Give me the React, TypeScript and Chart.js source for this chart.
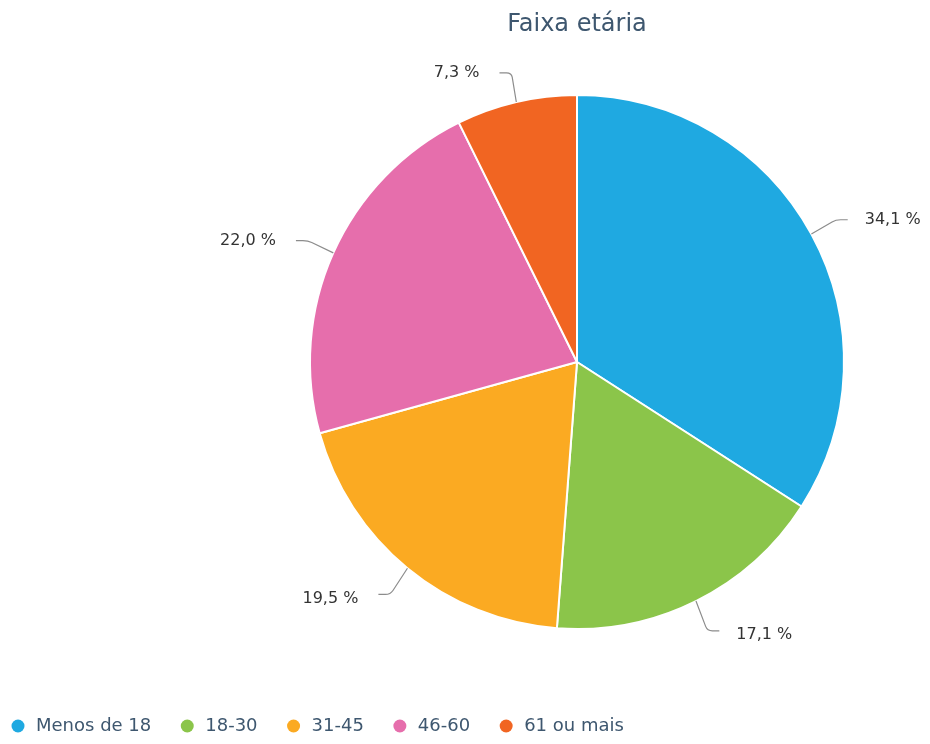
import React, { useEffect, useRef } from "react";
import { Chart, registerables } from "chart.js";

Chart.register(...registerables);

const titleText = "Faixa etária";
const categories = ["Menos de 18", "18-30", "31-45", "46-60", "61 ou mais"];
const values = [34.1, 17.1, 19.5, 22.0, 7.3];
const colors = ["#1fa9e1", "#8bc54a", "#fbaa22", "#e66eac", "#f16522"];

const FONT = '"DejaVu Sans", sans-serif';

const fmt = (v: number) => v.toFixed(1).replace(".", ",") + " %";

const decorPlugin = {
  id: "decor",
  afterDraw(chart: any) {
    const ctx: CanvasRenderingContext2D = chart.ctx;
    const meta = chart.getDatasetMeta(0);
    const data = chart.data.datasets[0].data as number[];
    const bg = chart.data.datasets[0].backgroundColor as string[];
    ctx.save();
    // title
    ctx.fillStyle = "#3e576f";
    ctx.font = `24px ${FONT}`;
    ctx.textAlign = "center";
    ctx.textBaseline = "middle";
    const cx0 = (chart.chartArea.left + chart.chartArea.right) / 2;
    ctx.fillText(titleText, cx0, 25);

    // data labels with connectors
    meta.data.forEach((arc: any, i: number) => {
      const { x, y, startAngle, endAngle, outerRadius } = arc.getProps(
        ["x", "y", "startAngle", "endAngle", "outerRadius"],
        true
      );
      const mid = (startAngle + endAngle) / 2;
      const dx = Math.cos(mid);
      const dy = Math.sin(mid);
      const p0x = x + outerRadius * dx;
      const p0y = y + outerRadius * dy;
      const lr = outerRadius + 30;
      const right = dx >= 0;
      const bottom = dy > 0.3;
      const bx = x + lr * dx;
      const by = y + lr * dy + (bottom ? 3 : 0);
      const side = right ? 1 : -1;
      const ex = bx + side * 10;
      ctx.strokeStyle = "#8c8c8c";
      ctx.lineWidth = 1.2;
      ctx.beginPath();
      ctx.moveTo(p0x, p0y);
      const kx = bx - side * 2;
      ctx.lineTo(kx + (p0x - kx) * 0.15, by + (p0y - by) * 0.15);
      ctx.quadraticCurveTo(kx, by, kx + side * 5, by);
      ctx.lineTo(ex, by);
      ctx.stroke();
      ctx.fillStyle = "#333333";
      ctx.font = `16px ${FONT}`;
      ctx.textAlign = right ? "left" : "right";
      ctx.textBaseline = "middle";
      ctx.fillText(fmt(data[i]), bx + side * (right ? 27 : 30), by + (bottom ? 4 : 0));
    });

    // legend
    ctx.font = `18px ${FONT}`;
    ctx.textAlign = "left";
    ctx.textBaseline = "middle";
    let lx = 12;
    const ly = 726;
    (chart.data.labels as string[]).forEach((lab: string, i: number) => {
      ctx.fillStyle = bg[i];
      ctx.beginPath();
      ctx.arc(lx + 6, ly, 6.5, 0, Math.PI * 2);
      ctx.fill();
      ctx.fillStyle = "#3e576f";
      ctx.fillText(lab, lx + 24, ly);
      lx += 24 + ctx.measureText(lab).width + 30;
    });
    ctx.restore();
  },
};

export default function App() {
  const ref = useRef<HTMLCanvasElement | null>(null);
  useEffect(() => {
    if (!ref.current) return;
    const chart = new Chart(ref.current, {
      type: "pie",
      data: {
        labels: categories,
        datasets: [
          {
            data: values,
            backgroundColor: colors,
            borderColor: "#ffffff",
            borderWidth: 2,
          },
        ],
      },
      options: {
        responsive: false,
        animation: false,
        devicePixelRatio: 1,
        layout: { padding: { left: 309, right: 85, top: 94, bottom: 114 } },
        plugins: {
          legend: { display: false },
          title: { display: false },
          tooltip: { enabled: false },
        },
      },
      plugins: [decorPlugin],
    });
    return () => chart.destroy();
  }, []);
  return (
    <div style={{ position: "absolute", left: 0, top: 0, width: 930, height: 744, background: "#fff" }}>
      <canvas ref={ref} width={930} height={744} style={{ width: 930, height: 744 }} />
    </div>
  );
}
